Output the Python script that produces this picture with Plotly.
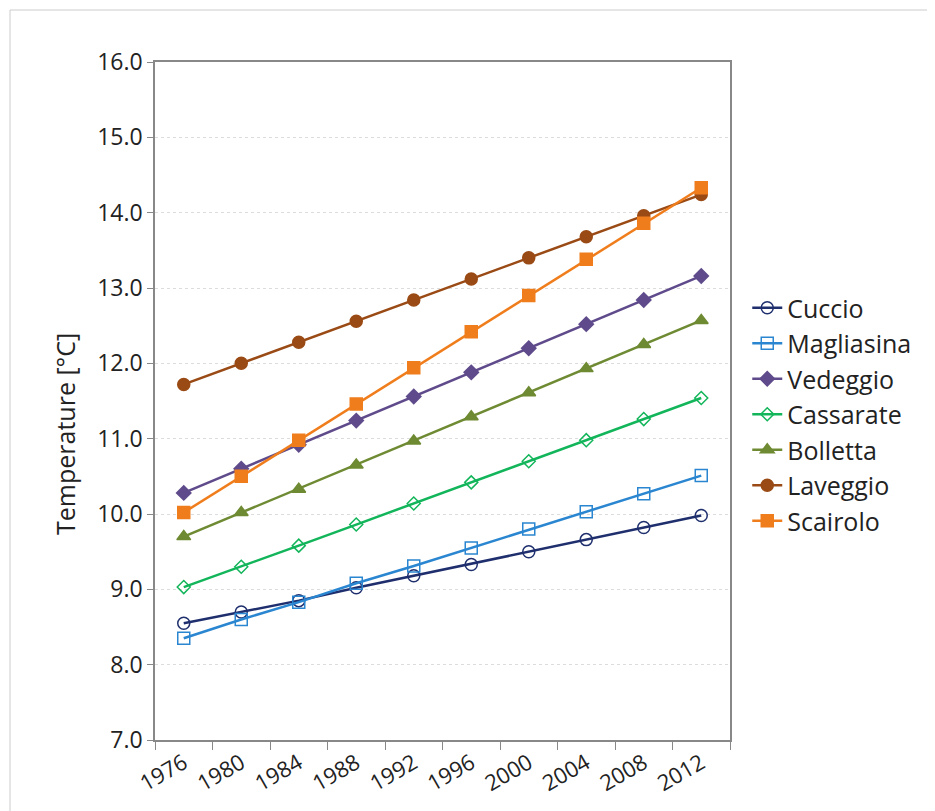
import plotly.graph_objects as go

years = ["1976","1980","1984","1988","1992","1996","2000","2004","2008","2012"]
cuccio = [8.55, 8.70, 8.85, 9.02, 9.18, 9.33, 9.50, 9.66, 9.82, 9.98]
magliasina = [8.35, 8.60, 8.83, 9.08, 9.31, 9.55, 9.80, 10.03, 10.27, 10.51]
vedeggio = [10.28, 10.60, 10.92, 11.24, 11.56, 11.88, 12.20, 12.52, 12.84, 13.16]
cassarate = [9.03, 9.30, 9.58, 9.86, 10.14, 10.42, 10.70, 10.98, 11.26, 11.54]
bolletta = [9.70, 10.02, 10.33, 10.65, 10.97, 11.29, 11.61, 11.93, 12.25, 12.57]
laveggio = [11.72, 12.00, 12.28, 12.56, 12.84, 13.12, 13.40, 13.68, 13.96, 14.24]
scairolo = [10.02, 10.50, 10.98, 11.46, 11.94, 12.42, 12.90, 13.38, 13.86, 14.33]

series = [
    ("Cuccio", cuccio, "#1f2f6e", "circle-open", 12),
    ("Magliasina", magliasina, "#2a86d0", "square-open", 12),
    ("Vedeggio", vedeggio, "#5f4b8b", "diamond", 11),
    ("Cassarate", cassarate, "#12b55a", "diamond-open", 10),
    ("Bolletta", bolletta, "#6e8a32", "triangle-up", 12),
    ("Laveggio", laveggio, "#9a4a14", "circle", 12),
    ("Scairolo", scairolo, "#f07d1c", "square", 12),
]

fig = go.Figure()
for name, vals, col, sym, sz in series:
    fig.add_trace(go.Scatter(x=years, y=vals, name=name, mode="lines+markers",
                             line=dict(color=col, width=2.5),
                             marker=dict(symbol=sym, size=sz, color=col,
                                         line=dict(color=col, width=1.5))))

fig.update_layout(
    width=935, height=811,
    margin=dict(l=147, r=213, t=54, b=79),
    paper_bgcolor="white", plot_bgcolor="white",
    font=dict(family="Open Sans, Liberation Sans, sans-serif", size=22, color="#222"),
    legend=dict(x=1.03, y=0.48, yanchor="middle", font=dict(size=25),
                tracegroupgap=0, itemwidth=30),
    xaxis=dict(type="category", range=[-0.5, 9.5], tickson="boundaries",
               ticks="outside", ticklen=8, tickcolor="#888", tickangle=-30,
               tickfont=dict(size=22),
               showline=True, linecolor="#888", linewidth=1.5, mirror=True,
               showgrid=False),
    yaxis=dict(range=[7, 16], dtick=1, tickformat=".1f", tickfont=dict(size=23),
               ticks="outside", ticklen=6, tickcolor="#888",
               showline=True, linecolor="#888", linewidth=1.5, mirror=True,
               gridcolor="#dcdcdc", griddash="dot", zeroline=False),
    annotations=[dict(text="Temperature [°C]", textangle=-90, showarrow=False,
                      xref="paper", yref="paper", x=-0.157, y=0.451,
                      xanchor="center", yanchor="middle", font=dict(size=25))],
    shapes=[dict(type="rect", xref="paper", yref="paper",
                 x0=-145/575, x1=(575+211)/575, y0=-77/678, y1=(678+52)/678,
                 line=dict(color="#cccccc", width=1))],
)
fig.write_html("out.html")
